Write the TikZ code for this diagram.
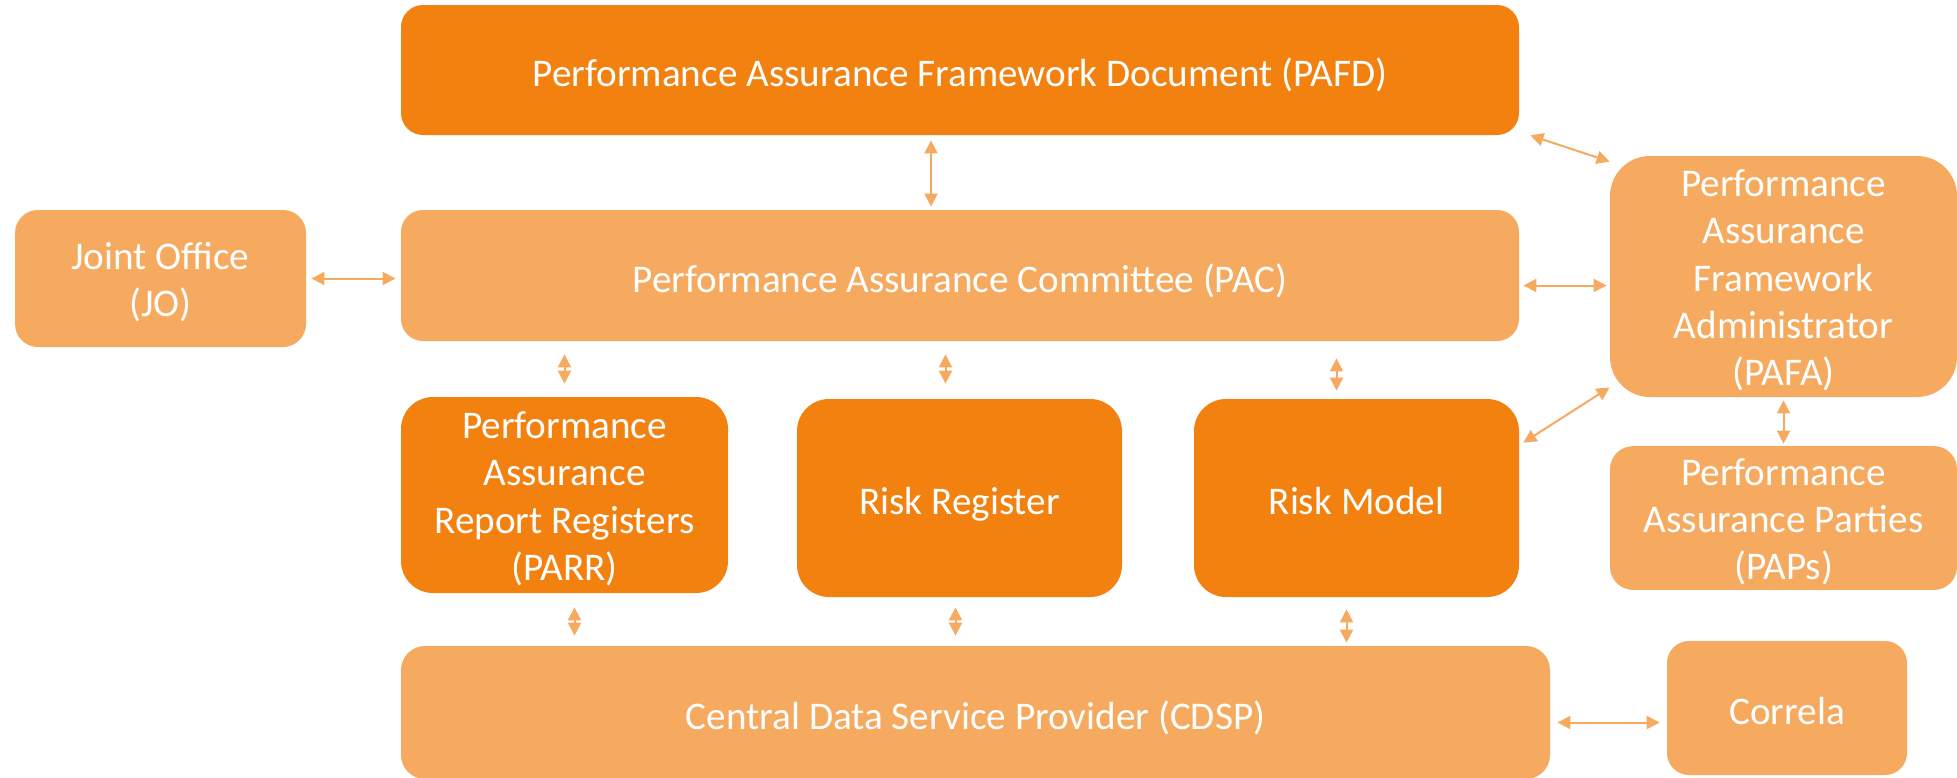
\documentclass[tikz,border=0pt]{standalone}
\usepackage{fontspec}
\setmainfont{Carlito}
\usetikzlibrary{arrows.meta}

\definecolor{BoxDark}{HTML}{F28110}
\definecolor{BoxLight}{HTML}{F6AA5F}
\colorlet{LinkColor}{BoxLight}
\newcommand{\topgap}{\rule{0pt}{19.5pt}}
\tikzset{
    box/.style={
        fill=#1, draw=none, text=white, align=center, inner sep=0pt,
        font=\fontsize{19.6pt}{23.7pt}\selectfont,
        execute at begin node={\rule[-5pt]{0pt}{26.5pt}}
    },
    box dark/.style={box=BoxDark},
    box light/.style={box=BoxLight},
    link/.style={
        draw=LinkColor, line width=1pt,
        {Triangle[length=6.5pt,width=6.5pt]}-{Triangle[length=6.5pt,width=6.5pt]}
    }
}

\begin{document}
\begin{tikzpicture}[x=0.5pt, y=-0.5pt]

\useasboundingbox (0,0) rectangle (1957,777);

% Documento y comite.
\node[box dark, minimum width=559pt, minimum height=65pt, rounded corners=11pt]
    (pafd) at (960,70) {Performance Assurance Framework Document (PAFD)};
\node[box light, minimum width=559pt, minimum height=65.5pt, rounded corners=11pt]
    (pac) at (960,275.5) {Performance Assurance Committee (PAC)};
\node[box light, minimum width=145.5pt, minimum height=68.5pt, rounded corners=11.5pt]
    (jo) at (160.5,278.5) {\topgap Joint Office\\(JO)};

% Administrador y partes.
\node[box light, minimum width=173.5pt, minimum height=120.5pt, rounded corners=20pt]
    (pafa) at (1783.5,276.5) {\topgap Performance\\Assurance\\Framework\\Administrator\\(PAFA)};
\node[box light, minimum width=173.5pt, minimum height=69pt, rounded corners=11.5pt]
    (paps) at (1783.5,518) {\topgap Performance\\Assurance Parties\\(PAPs)};

% Registros y modelo.
\node[box dark, minimum width=163.5pt, minimum height=98pt, rounded corners=16pt]
    (parr) at (564.5,495) {\topgap Performance\\Assurance\\Report Registers\\(PARR)};
\node[box dark, minimum width=162.5pt, minimum height=99pt, rounded corners=16pt]
    (riskreg) at (959.5,498) {Risk Register};
\node[box dark, minimum width=162.5pt, minimum height=99pt, rounded corners=16pt]
    (riskmodel) at (1356.5,498) {Risk Model};

% Proveedor de datos.
\node[box light, minimum width=574.5pt, minimum height=66.5pt, rounded corners=12pt]
    (cdsp) at (975.5,712.5) {Central Data Service Provider (CDSP)};
\node[box light, minimum width=120pt, minimum height=67pt, rounded corners=11pt]
    (correla) at (1787,708) {Correla};

% Conexiones superiores.
\draw[link, shorten <=2.5pt, shorten >=1.5pt]
    ([xshift=-14.5pt]pafd.south) -- ([xshift=-14.5pt]pac.north);
\draw[link, shorten <=2.5pt, shorten >=2.5pt]
    (jo.east) -- (jo.east -| pac.west);
\draw[link, shorten <=2pt, shorten >=1.5pt]
    ([yshift=-5pt]pac.east) -- ([yshift=-5pt]pac.east -| pafa.west);
\draw[link] ([xshift=5.5pt]pafd.south east) -- ([yshift=-3pt]pafa.north west);
\draw[link] ([yshift=5pt]pafa.south west) -- ([xshift=2pt,yshift=-22pt]riskmodel.north east);
\draw[link, shorten <=1.5pt, shorten >=1pt] (pafa.south) -- (paps.north);

% Conexiones del comite.
\draw[link, shorten <=6.5pt, shorten >=6.5pt]
    (parr.north |- pac.south) -- (parr.north);
\draw[link, shorten <=6.5pt, shorten >=7.5pt]
    ([xshift=-7pt]riskreg.north |- pac.south) -- ([xshift=-7pt]riskreg.north);
\draw[link, shorten <=8.5pt, shorten >=4pt]
    ([xshift=-10pt]riskmodel.north |- pac.south) -- ([xshift=-10pt]riskmodel.north);

% Conexiones con el proveedor.
\draw[link, shorten <=7pt, shorten >=5pt]
    ([xshift=5pt]parr.south) -- ([xshift=5pt]parr.south |- cdsp.north);
\draw[link, shorten <=5pt, shorten >=5pt]
    ([xshift=-2pt]riskreg.south) -- ([xshift=-2pt]riskreg.south |- cdsp.north);
\draw[link, shorten <=6pt, shorten >=1.5pt]
    ([xshift=-5pt]riskmodel.south) -- ([xshift=-5pt]riskmodel.south |- cdsp.north);
\draw[link, shorten <=3.5pt, shorten >=3.5pt]
    ([yshift=-5pt]cdsp.east) -- ([yshift=-5pt]cdsp.east -| correla.west);

\end{tikzpicture}
\end{document}
